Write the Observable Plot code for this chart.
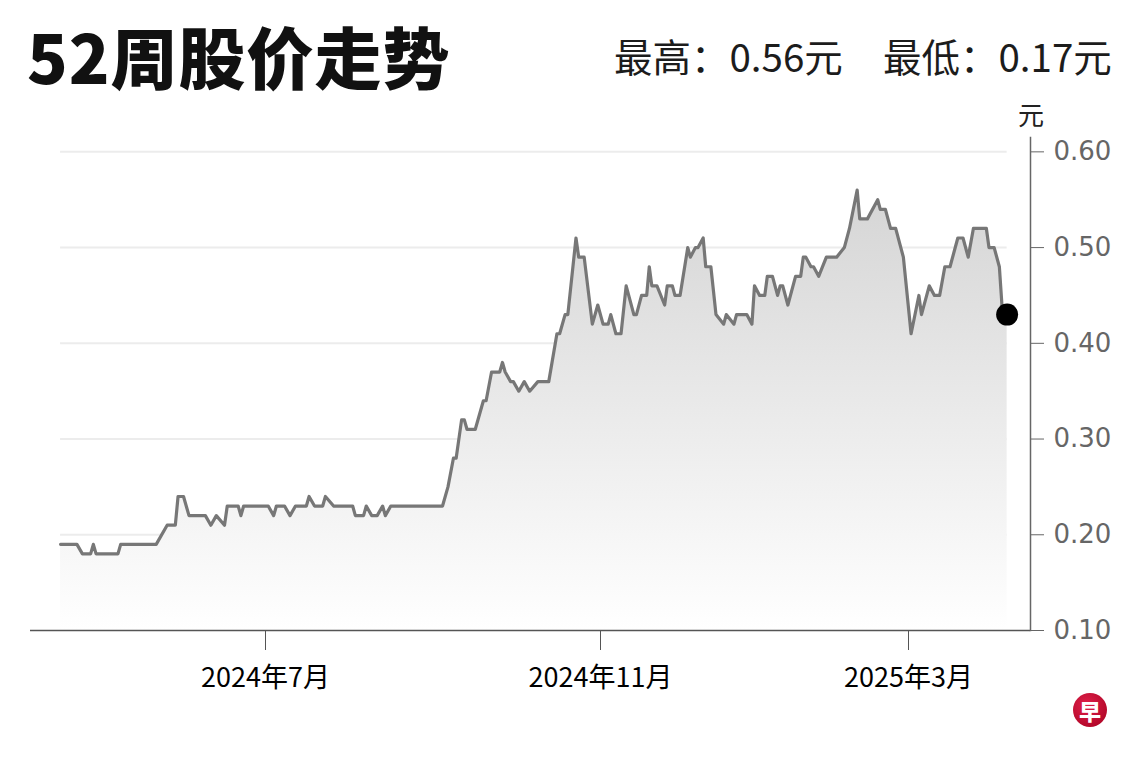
<!DOCTYPE html>
<html>
<head>
<meta charset="utf-8">
<script src="https://cdn.jsdelivr.net/npm/d3@7"></script>
<script src="https://cdn.jsdelivr.net/npm/@observablehq/plot@0.6"></script>
<style>
  body { margin: 0; background: #fff; }
  #wrap { position: relative; width: 1140px; height: 760px; overflow: hidden; }
  #chart { position: absolute; left: 0; top: 0; }
  .cjk { font-family: "Noto Sans CJK SC", "Noto Sans", sans-serif; position: absolute; line-height: 1; white-space: nowrap; }
  #title { left: 27px; top: 21px; font-size: 67px; font-weight: 900; color: #111; letter-spacing: 1px; }
  .hilo { top: 36px; font-size: 38.5px; color: #1c1c1c; }
  #unit { left: 1018px; top: 101px; font-size: 26px; color: #222; }
  #logo { left: 1073px; top: 693px; width: 34px; height: 34px; border-radius: 50%;
    background: radial-gradient(circle at 40% 35%, #e0204a, #a5001f);
    color: #fff; font-size: 22px; font-weight: 900; text-align: center; line-height: 34px; }
</style>
</head>
<body>
<div id="wrap">
  <div id="chart"></div>
  <div id="title" class="cjk">52周股价走势</div>
  <div class="cjk hilo" style="left:614px">最高：0.56元</div>
  <div class="cjk hilo" style="left:883px">最低：0.17元</div>
  <div id="unit" class="cjk">元</div>
  <div id="logo" class="cjk">早</div>
</div>
<script>
// closing prices (turning points only)
const dates = [
  "2024-04-17","2024-04-23","2024-04-25","2024-04-28","2024-04-29","2024-04-30","2024-05-08","2024-05-09",
  "2024-05-22","2024-05-26","2024-05-29","2024-05-30","2024-06-01","2024-06-03","2024-06-09","2024-06-11",
  "2024-06-13","2024-06-16","2024-06-17","2024-06-21","2024-06-22","2024-06-23","2024-07-02","2024-07-04",
  "2024-07-05","2024-07-08","2024-07-10","2024-07-12","2024-07-16","2024-07-17","2024-07-19","2024-07-22",
  "2024-07-23","2024-07-26","2024-08-02","2024-08-03","2024-08-06","2024-08-07","2024-08-09","2024-08-11",
  "2024-08-13","2024-08-14","2024-08-16","2024-09-04","2024-09-06","2024-09-08","2024-09-09","2024-09-11",
  "2024-09-12","2024-09-13","2024-09-16","2024-09-19","2024-09-20","2024-09-22","2024-09-25","2024-09-26",
  "2024-09-27","2024-09-29","2024-09-30","2024-10-02","2024-10-04","2024-10-06","2024-10-09","2024-10-13",
  "2024-10-16","2024-10-17","2024-10-19","2024-10-20","2024-10-23","2024-10-24","2024-10-26","2024-10-29",
  "2024-10-31","2024-11-02","2024-11-04","2024-11-05","2024-11-07","2024-11-09","2024-11-11","2024-11-14",
  "2024-11-15","2024-11-17","2024-11-19","2024-11-20","2024-11-21","2024-11-23","2024-11-26","2024-11-27",
  "2024-11-29","2024-11-30","2024-12-02","2024-12-05","2024-12-06","2024-12-08","2024-12-09","2024-12-11",
  "2024-12-12","2024-12-14","2024-12-16","2024-12-19","2024-12-20","2024-12-23","2024-12-24","2024-12-28",
  "2024-12-30","2024-12-31","2025-01-02","2025-01-04","2025-01-05","2025-01-07","2025-01-09","2025-01-10",
  "2025-01-11","2025-01-13","2025-01-16","2025-01-18","2025-01-19","2025-01-20","2025-01-22","2025-01-23",
  "2025-01-25","2025-01-28","2025-02-01","2025-02-04","2025-02-06","2025-02-09","2025-02-10","2025-02-13",
  "2025-02-17","2025-02-18","2025-02-20","2025-02-22","2025-02-24","2025-02-27","2025-03-02","2025-03-05",
  "2025-03-06","2025-03-09","2025-03-11","2025-03-13","2025-03-15","2025-03-17","2025-03-20","2025-03-22",
  "2025-03-24","2025-03-26","2025-03-31","2025-04-01","2025-04-03","2025-04-05","2025-04-06","2025-04-08"
];
const prices = [
  0.19,0.19,0.18,0.18,0.19,0.18,0.18,0.19,
  0.19,0.21,0.21,0.24,0.24,0.22,0.22,0.21,
  0.22,0.21,0.23,0.23,0.22,0.23,0.23,0.22,
  0.23,0.23,0.22,0.23,0.23,0.24,0.23,0.23,
  0.24,0.23,0.23,0.22,0.22,0.23,0.22,0.22,
  0.23,0.22,0.23,0.23,0.25,0.28,0.28,0.32,
  0.32,0.31,0.31,0.34,0.34,0.37,0.37,0.38,
  0.37,0.36,0.36,0.35,0.36,0.35,0.36,0.36,
  0.41,0.41,0.43,0.43,0.51,0.49,0.49,0.42,
  0.44,0.42,0.42,0.43,0.41,0.41,0.46,0.43,
  0.43,0.45,0.45,0.48,0.46,0.46,0.44,0.46,
  0.46,0.45,0.45,0.50,0.49,0.50,0.50,0.51,
  0.48,0.48,0.43,0.42,0.43,0.42,0.43,0.43,
  0.42,0.46,0.45,0.45,0.47,0.47,0.45,0.46,
  0.46,0.44,0.47,0.47,0.49,0.49,0.48,0.48,
  0.47,0.49,0.49,0.50,0.52,0.56,0.53,0.53,
  0.55,0.54,0.54,0.52,0.52,0.49,0.41,0.45,
  0.43,0.46,0.45,0.45,0.48,0.48,0.51,0.51,
  0.49,0.52,0.52,0.50,0.50,0.48,0.44,0.43
];

const yTicks = [0.10, 0.20, 0.30, 0.40, 0.50, 0.60];
const tickDates = ["2024-07-01", "2024-11-01", "2025-03-01"];
const tickLabels = ["2024年7月", "2024年11月", "2025年3月"];

const data = dates.map((d, i) => ({date: new Date(d), price: prices[i]}));
const last = data[data.length - 1];
const xTicks = tickDates.map(d => new Date(d));
const labelOf = new Map(xTicks.map((d, i) => [+d, tickLabels[i]]));

const gradient = () => {
  const defs = d3.create("svg:defs");
  const g = defs.append("linearGradient").attr("id", "fade")
    .attr("x1", 0).attr("x2", 0).attr("y1", 0).attr("y2", 1);
  g.append("stop").attr("offset", "0%").attr("stop-color", "#d5d5d5");
  g.append("stop").attr("offset", "100%").attr("stop-color", "#ffffff");
  return defs.node();
};

const chart = Plot.plot({
  width: 1140,
  height: 760,
  marginTop: 137,
  marginBottom: 130,
  marginLeft: 30,
  marginRight: 110,
  x: {
    type: "utc",
    domain: ["2024-04-06", "2024-07-01", "2024-11-01", "2025-03-01", "2025-04-17"].map(d => new Date(d)),
    range: [30, 265, 600, 908, 1030]
  },
  y: {domain: [0.10, 0.615]},
  marks: [
    gradient,
    Plot.ruleY(yTicks.slice(1), {x1: data[0].date, x2: last.date, stroke: "#ececec", strokeWidth: 2}),
    Plot.areaY(data, {x: "date", y1: yTicks[0], y2: "price", fill: "url(#fade)"}),
    Plot.lineY(data, {x: "date", y: "price", stroke: "#777", strokeWidth: 3.2}),
    Plot.dot([last], {x: "date", y: "price", r: 11, fill: "#000"}),
    Plot.ruleY([yTicks[0]], {stroke: "#555", strokeWidth: 1.5}),
    Plot.frame({anchor: "right", stroke: "#666", strokeWidth: 1.5}),
    Plot.axisX({
      ticks: xTicks, tickFormat: d => labelOf.get(+d), tickSize: 20, tickPadding: 17,
      fontSize: 27, fill: "#000", stroke: "#555", label: null,
      fontFamily: "'Noto Sans CJK SC', sans-serif"
    }),
    Plot.axisY({
      anchor: "right", ticks: yTicks, tickFormat: d3.format(".2f"), tickSize: 13, tickPadding: 10,
      fontSize: 26, fill: "#666", stroke: "#666", label: null,
      fontFamily: "'DejaVu Sans', sans-serif"
    })
  ]
});

d3.select("#chart").append(() => chart);
</script>
</body>
</html>
